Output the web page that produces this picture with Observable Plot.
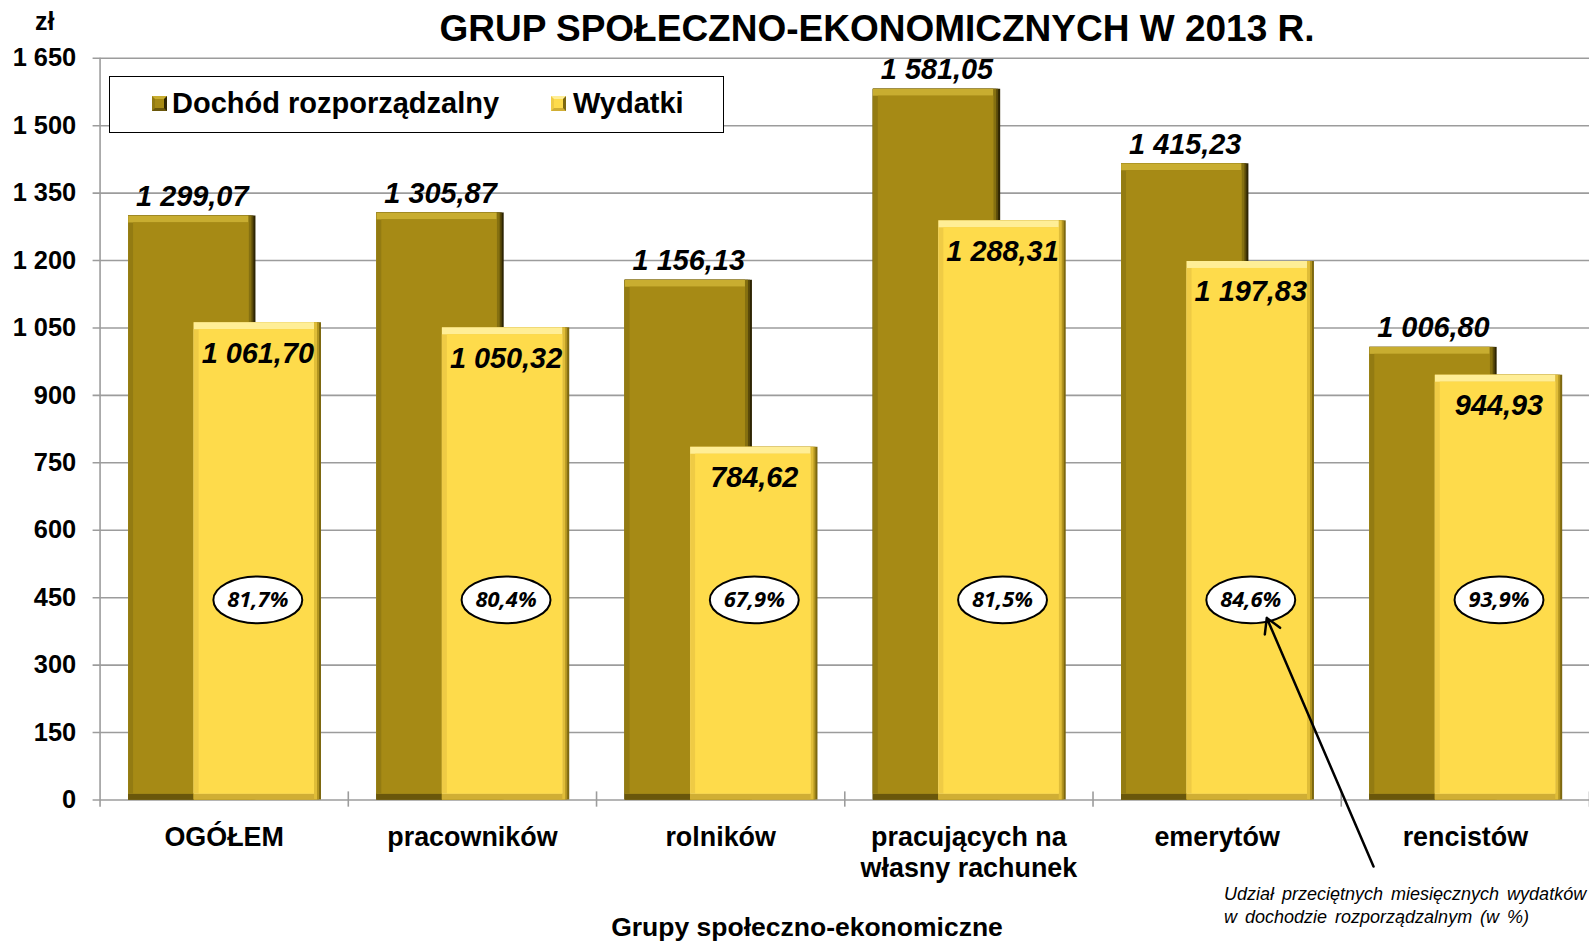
<!DOCTYPE html>
<html>
<head>
<meta charset="utf-8">
<script src="https://cdn.jsdelivr.net/npm/d3@7"></script>
<script src="https://cdn.jsdelivr.net/npm/@observablehq/plot@0.6"></script>
<style>
  html, body { margin: 0; padding: 0; background: #fff; overflow: hidden; }
  #wrap { position: relative; width: 1589px; height: 943px; overflow: hidden; background: #fff;
          font-family: "Liberation Sans", Arial, sans-serif; color: #000; }
  #chart { position: absolute; left: 0; top: 0; }
  .abs { position: absolute; white-space: nowrap; line-height: 1; }
  #title { left: 0; width: 1754px; text-align: center; font-weight: bold; font-size: 37px; top: 9.7px; }
  #unit { left: 35px; top: 9.3px; font-weight: bold; font-size: 25px; }
  #legend { left: 109px; top: 76px; width: 615px; height: 57px; box-sizing: border-box;
            border: 1.5px solid #000; background: #fff; }
  .sw { position: absolute; width: 15px; height: 15px; box-sizing: border-box; border: 3px solid; top: 19px; }
  .lt { position: absolute; font-weight: bold; font-size: 29px; line-height: 1; top: 12px; white-space: nowrap; }
  #xtitle { left: 0; width: 1614px; text-align: center; font-weight: bold; font-size: 26.5px; top: 913.6px; }
  .note { left: 1224px; font-style: italic; font-size: 18px; word-spacing: 3px; }
  #chart svg g[aria-label="y-axis tick label"] text { font-weight: bold; }
</style>
</head>
<body>
<div id="wrap">
  <div id="chart"></div>
  <div id="title" class="abs"></div>
  <div id="unit" class="abs"></div>
  <div id="legend" class="abs"></div>
  <div id="xtitle" class="abs"></div>
  <div id="note1" class="abs note" style="top:884.8px"></div>
  <div id="note2" class="abs note" style="top:907.8px"></div>
</div>
<script>
// ---------- data ----------
const chartTitle = "GRUP SPOŁECZNO-EKONOMICZNYCH W 2013 R.";
const unitLabel = "zł";
const axisTitle = "Grupy społeczno-ekonomiczne";
const seriesNames = ["Dochód rozporządzalny", "Wydatki"];
const categories = ["OGÓŁEM", "pracowników", "rolników", "pracujących na\nwłasny rachunek", "emerytów", "rencistów"];
const dochod = [1299.07, 1305.87, 1156.13, 1581.05, 1415.23, 1006.80];
const wydatki = [1061.70, 1050.32, 784.62, 1288.31, 1197.83, 944.93];
const udzial = ["81,7%", "80,4%", "67,9%", "81,5%", "84,6%", "93,9%"];
const yTicks = [0, 150, 300, 450, 600, 750, 900, 1050, 1200, 1350, 1500, 1650];
const noteLines = ["Udział przeciętnych miesięcznych wydatków", "w dochodzie rozporządzalnym (w %)"];
// annotation arrow: from the note (below the axis) to the "emerytów" share bubble
const noteArrow = [{x1: 5.13, y1: -148, x2: 4.70, y2: 405}];

// ---------- helpers ----------
const FONT = '"Liberation Sans", Arial, sans-serif';
const plLocale = d3.formatLocale({decimal: ",", thousands: " ", grouping: [3], currency: ["", " zł"]});
const fmtVal = plLocale.format(",.2f");
const fmtInt = plLocale.format(",d");

const rows = categories.map((c, i) => ({i, c, d: dochod[i], w: wydatki[i], p: udzial[i]}));

// position of the two overlapping bars inside each group (fractions of a group)
const DARK = [0.115, 0.628];
const YEL = [0.379, 0.892];
const darkC = (DARK[0] + DARK[1]) / 2;
const yelC = (YEL[0] + YEL[1]) / 2;

const palDark = {rOuter: "#2e2503", rMid: "#5a4a09", rInner: "#857010", bottom: "#6a570b",
                 top: "#c8ad30", left: "#937b12", main: "#a68a15"};
const palYel  = {rOuter: "#7d6810", rMid: "#b39521", rInner: "#e0bd38", bottom: "#d0ae34",
                 top: "#ffee96", left: "#efcb45", main: "#fedb4b"};

function bevelBars(span, yKey, pal) {
  const base = {x1: d => d.i + span[0], x2: d => d.i + span[1], y1: 0, y2: yKey};
  return [
    Plot.rect(rows, {...base, fill: pal.rOuter}),
    Plot.rect(rows, {...base, insetRight: 2, fill: pal.rMid}),
    Plot.rect(rows, {...base, insetRight: 4, fill: pal.rInner}),
    Plot.rect(rows, {...base, insetRight: 7, fill: pal.bottom}),
    Plot.rect(rows, {...base, insetRight: 7, insetBottom: 6, fill: pal.top}),
    Plot.rect(rows, {...base, insetRight: 7, insetBottom: 6, insetTop: 7, fill: pal.left}),
    Plot.rect(rows, {...base, insetLeft: 5, insetRight: 7, insetBottom: 6, insetTop: 7, fill: pal.main})
  ];
}

const ellipseSymbol = {
  draw(ctx, size) {
    const r = Math.sqrt(size / Math.PI), rx = r * 1.9, ry = r, k = 0.5523;
    ctx.moveTo(rx, 0);
    ctx.bezierCurveTo(rx, k * ry, k * rx, ry, 0, ry);
    ctx.bezierCurveTo(-k * rx, ry, -rx, k * ry, -rx, 0);
    ctx.bezierCurveTo(-rx, -k * ry, -k * rx, -ry, 0, -ry);
    ctx.bezierCurveTo(k * rx, -ry, rx, -k * ry, rx, 0);
    ctx.closePath();
  }
};

const GRID = "#9c9c9c";

const plot = Plot.plot({
  width: 1596,
  height: 943,
  marginLeft: 100,
  marginRight: 0,
  marginTop: 58,
  marginBottom: 140,
  style: {fontFamily: FONT, color: "black", background: "white", overflow: "visible"},
  x: {type: "linear", domain: [0, categories.length], axis: null},
  y: {domain: [0, 1650], axis: null},
  marks: [
    Plot.ruleY(yTicks, {stroke: GRID, strokeWidth: 1.6, insetLeft: -7}),
    Plot.ruleX([0], {y1: -16, y2: 1650, stroke: GRID, strokeWidth: 1.6}),
    Plot.ruleX(d3.range(1, categories.length + 1), {y1: -16, y2: 18, stroke: GRID, strokeWidth: 1.6}),
    Plot.axisY(yTicks, {tickSize: 0, tickPadding: 24, tickFormat: fmtInt, fontSize: 25.5, fontWeight: "bold",
                        fontFamily: FONT, fill: "black", label: null}),
    ...bevelBars(DARK, "d", palDark),
    ...bevelBars(YEL, "w", palYel),
    Plot.text(rows, {x: d => d.i + darkC, y: "d", text: d => fmtVal(d.d), lineAnchor: "bottom", dy: -10,
                     fontSize: 29, fontWeight: "bold", fontStyle: "italic", fontFamily: FONT, fill: "black"}),
    Plot.text(rows, {x: d => d.i + yelC, y: "w", text: d => fmtVal(d.w), lineAnchor: "bottom", dy: 40,
                     fontSize: 29, fontWeight: "bold", fontStyle: "italic", fontFamily: FONT, fill: "black"}),
    Plot.dot(rows, {x: d => d.i + yelC, y: 445, r: 23.5, symbol: ellipseSymbol, fill: "white", stroke: "black", strokeWidth: 2}),
    Plot.text(rows, {x: d => d.i + yelC, y: 445, text: "p", fontSize: 22, fontWeight: 700, fontStyle: "italic",
                     fontFamily: "'Open Sans', 'Noto Sans', sans-serif", fill: "black"}),
    Plot.text(rows, {x: d => d.i + 0.5, y: 0, text: "c", lineAnchor: "top", dy: 23.8, lineHeight: 1.17,
                     fontSize: 27, fontWeight: "bold", fontFamily: FONT, fill: "black"}),
    Plot.arrow(noteArrow, {x1: "x1", y1: "y1", x2: "x2", y2: "y2", stroke: "black", strokeWidth: 2.5,
                           headLength: 10, headAngle: 60})
  ]
});
document.getElementById("chart").appendChild(plot);

// ---------- texts & legend ----------
document.getElementById("title").textContent = chartTitle;
document.getElementById("unit").textContent = unitLabel;
document.getElementById("xtitle").textContent = axisTitle;
document.getElementById("note1").textContent = noteLines[0];
document.getElementById("note2").textContent = noteLines[1];

const legend = document.getElementById("legend");
const legendItems = [
  {name: seriesNames[0], pal: palDark, sw: 42, tx: 62},
  {name: seriesNames[1], pal: palYel, sw: 441, tx: 463}
];
for (const it of legendItems) {
  const s = document.createElement("div");
  s.className = "sw";
  s.style.left = it.sw + "px";
  s.style.background = it.pal.main;
  s.style.borderColor = `${it.pal.top} ${it.pal.rOuter} ${it.pal.bottom} ${it.pal.left}`;
  legend.appendChild(s);
  const t = document.createElement("div");
  t.className = "lt";
  t.style.left = it.tx + "px";
  t.textContent = it.name;
  legend.appendChild(t);
}
</script>
</body>
</html>
